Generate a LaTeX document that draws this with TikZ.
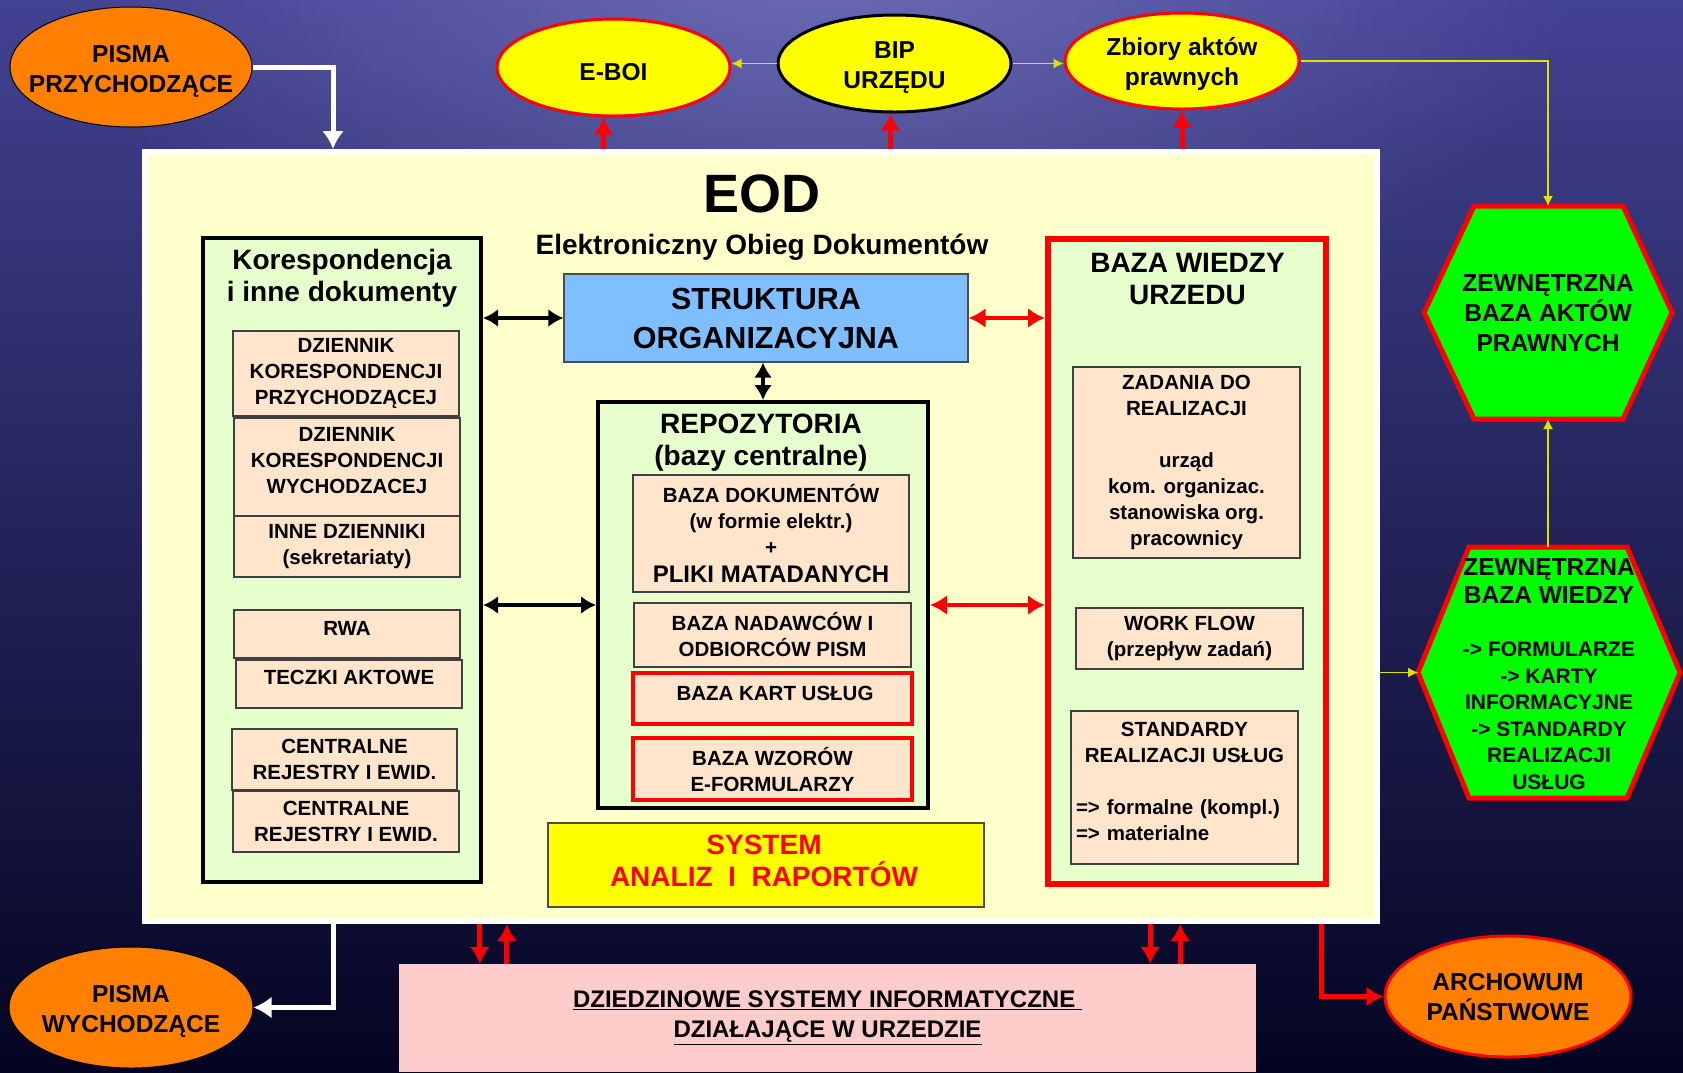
\documentclass[tikz,border=0pt]{standalone}
\usepackage{fontspec}
\setmainfont{Liberation Sans}
\usepackage{tikz}
\usetikzlibrary{shapes.geometric,arrows.meta,fadings}

\definecolor{bgtop}{RGB}{66,66,146}
\definecolor{bgmid}{RGB}{26,26,90}
\definecolor{bgbot}{RGB}{4,4,34}
\definecolor{glowc}{RGB}{130,130,200}
\definecolor{eodfill}{RGB}{255,255,204}
\definecolor{lgreen}{RGB}{230,255,204}
\definecolor{peach}{RGB}{255,229,204}
\definecolor{orng}{RGB}{255,128,0}
\definecolor{sky}{RGB}{128,191,255}
\definecolor{pinkbox}{RGB}{255,204,204}
\definecolor{hexgreen}{RGB}{0,255,0}
\definecolor{ylw}{RGB}{255,255,0}
\definecolor{ylline}{RGB}{225,225,0}

\newcommand{\fsz}[2]{\fontsize{#1}{#2}\selectfont}

\tikzfading[name=glow, inner color=transparent!35, outer color=transparent!100]

\tikzstyle{ovl} = [ellipse, fill=orng, draw=black, line width=1pt, inner xsep=-20pt, inner ysep=0pt, text height=55pt, align=center, font=\bfseries\fsz{24.5}{30}]
\tikzstyle{yov} = [ellipse, fill=ylw, draw=red, line width=3pt, inner sep=0pt, text height=55pt, align=center, font=\bfseries\fsz{24.5}{30}]
\tikzstyle{pch} = [rectangle, fill=peach, draw=black!75, line width=1.2pt, inner sep=0pt, align=center, font=\bfseries\fsz{20.5}{26}]
\tikzstyle{grp} = [rectangle, fill=lgreen, draw=black, line width=4pt, inner sep=0pt]
\tikzstyle{ttl} = [inner sep=0pt, align=center, font=\bfseries\fsz{28}{32}]
\tikzstyle{txt} = [inner sep=0pt, align=center, font=\bfseries\fsz{20.5}{26}]

\begin{document}
\begin{tikzpicture}[x=1pt, y=-1pt]
\tikzstyle{blk} = [line width=3.5pt, black, {Latex[length=15pt,width=18pt]}-{Latex[length=15pt,width=18pt]}]
\tikzstyle{rdd} = [line width=4pt, red, {Latex[length=17pt,width=20pt]}-{Latex[length=17pt,width=20pt]}]
\tikzstyle{rup} = [line width=5pt, red, -{Latex[length=17pt,width=20pt]}]
\tikzstyle{wht} = [line width=5pt, white, -{Latex[length=18pt,width=22pt]}]
\tikzstyle{yl} = [line width=1.3pt, ylline, -{Latex[length=10pt,width=10pt]}]
\tikzstyle{hx} = [fill=hexgreen, draw=red, line width=5pt, line join=miter]

\useasboundingbox (0,0) rectangle (1683,1072);
\shade[top color=bgtop, middle color=bgmid, bottom color=bgbot] (0,0) rectangle (1683,1072);
\fill[glowc, path fading=glow] (820,-40) ellipse (760 and 420);

% outer ellipses
\node[ovl, minimum width=242, minimum height=120] (pprz) at (131,67) {PISMA\\PRZYCHODZĄCE};
\node[yov, text height=25.5pt, minimum width=233, minimum height=97] (eboi) at (613.5,67.5) {E-BOI};
\node[yov, draw=black, minimum width=233, minimum height=97] (bip) at (894.5,63.5) {BIP\\URZĘDU};
\node[yov, minimum width=234, minimum height=96] (zbior) at (1182,61) {Zbiory aktów\\prawnych};
\node[ovl, text height=54pt, minimum width=244, minimum height=121] (pwych) at (131,1007.5) {PISMA\\WYCHODZĄCE};
\node[ovl, draw=red, line width=3pt, text height=49pt, minimum width=246, minimum height=121] (arch) at (1508,996.5) {ARCHOWUM\\PAŃSTWOWE};

% EOD frame
\node[rectangle, fill=eodfill, draw=white, line width=6pt, minimum width=1232, minimum height=769] (eod) at (761,536.5) {};
\node[inner sep=0pt, font=\bfseries\fsz{54}{60}] (eodt) at (762,194) {EOD};
\node[ttl] (eods) at (762,247) {Elektroniczny Obieg Dokumentów};

% Korespondencja
\node[grp, minimum width=278, minimum height=644] (kor) at (342,560) {};
\node[ttl] (kort) at (342,278) {Korespondencja\\i inne dokumenty};
\node[pch, minimum width=226, minimum height=85] (dzp) at (346,373.5) {DZIENNIK\\KORESPONDENCJI\\PRZYCHODZĄCEJ};
\node[pch, minimum width=226, minimum height=98] (dzw) at (347,467) {};
\node[txt] (dzwt) at (347,461) {DZIENNIK\\KORESPONDENCJI\\WYCHODZACEJ};
\node[pch, minimum width=226, minimum height=61] (inne) at (347,546.5) {INNE DZIENNIKI\\(sekretariaty)};
\node[pch, minimum width=226, minimum height=48] (rwa) at (347,634) {};
\node[txt] (rwat) at (347,628) {RWA};
\node[pch, minimum width=226, minimum height=48] (tecz) at (349,684) {};
\node[txt] (teczt) at (349,677) {TECZKI AKTOWE};
\node[pch, minimum width=225, minimum height=61] (cen1) at (344.5,759.5) {CENTRALNE\\REJESTRY I EWID.};
\node[pch, minimum width=226, minimum height=61] (cen2) at (346,821.5) {CENTRALNE\\REJESTRY I EWID.};

% struktura + repozytoria
\node[rectangle, fill=sky, draw=black!70, line width=1.2pt, minimum width=404, minimum height=88, align=center, inner sep=0pt, font=\bfseries\fsz{30.5}{39}] (str) at (766,318) {STRUKTURA\\ORGANIZACYJNA};
\node[grp, minimum width=330, minimum height=406] (repo) at (763,605) {};
\node[ttl] (repot) at (761,443) {REPOZYTORIA\\(bazy centralne)};
\node[pch, minimum width=276, minimum height=117] (bdok) at (771,533.5) {BAZA DOKUMENTÓW\\(w formie elektr.)\\+\\[2pt]{\fsz{24}{28}PLIKI MATADANYCH}};
\node[pch, minimum width=277, minimum height=64] (bnad) at (772.5,635) {BAZA NADAWCÓW I\\ODBIORCÓW PISM};
\node[pch, draw=red, line width=3.5pt, minimum width=279, minimum height=51] (bkart) at (772.5,698.5) {};
\node[txt] (bkartt) at (775,693) {BAZA KART USŁUG};
\node[pch, draw=red, line width=3.5pt, minimum width=279, minimum height=62] (bwz) at (772.5,769) {BAZA WZORÓW\\E-FORMULARZY};

\node[rectangle, fill=ylw, draw=black!70, line width=1.2pt, minimum width=436, minimum height=84] (sys) at (766,865) {};
\node[ttl, text=red] (syst) at (764,861) {SYSTEM\\ANALIZ~~I~~RAPORTÓW};

% baza wiedzy
\node[grp, draw=red, line width=6pt, minimum width=278, minimum height=645] (bw) at (1187,561.5) {};
\node[ttl] (bwt) at (1187.5,279) {BAZA WIEDZY\\URZEDU};
\node[pch, minimum width=227, minimum height=191] (zad) at (1186.5,462.5) {ZADANIA DO\\REALIZACJI\\[26pt]urząd\\kom. organizac.\\stanowiska org.\\pracownicy};
\node[pch, minimum width=227, minimum height=61] (wf) at (1189.5,638.5) {WORK FLOW\\(przepływ zadań)};
\node[pch, minimum width=227, minimum height=153] (std) at (1184.5,787.5) {};
\node[txt, text width=217, align=left] (stdt) at (1184.5,781) {\makebox[\hsize]{STANDARDY}\\\makebox[\hsize]{REALIZACJI USŁUG}\\[26pt]=> formalne (kompl.)\\=> materialne};

% dziedzinowe systemy
\node[rectangle, fill=pinkbox, minimum width=857, minimum height=108, inner sep=0pt, align=center, font=\bfseries\fsz{24}{30}] (dzs) at (827.5,1018) {\underline{DZIEDZINOWE SYSTEMY INFORMATYCZNE\ }\\\underline{DZIAŁAJĄCE W URZEDZIE}};

% hexagons
\path[hx] (1474,206) -- (1623,206) -- (1672,312.5) -- (1623,419) -- (1474,419) -- (1424,312.5) -- cycle;
\coordinate (hxa-top) at (1548,206);
\coordinate (hxa-bot) at (1548,419);
\node[inner sep=0pt, align=center, font=\bfseries\fsz{24.5}{30}] (hxa) at (1548,313) {ZEWNĘTRZNA\\BAZA AKTÓW\\PRAWNYCH};
\path[hx] (1469,547) -- (1627,547) -- (1680,672.5) -- (1627,798) -- (1469,798) -- (1418,672.5) -- cycle;
\coordinate (hxb-top) at (1548,547);
\coordinate (hxb-w) at (1418,672.5);
\node[inner sep=0pt, align=center, font=\bfseries\fsz{21}{26.5}] (hxb) at (1549,674) {{\fsz{24.5}{30}ZEWNĘTRZNA}\\[1pt]{\fsz{24.5}{30}BAZA WIEDZY}\\[27pt]-> FORMULARZE\\-> KARTY\\INFORMACYJNE\\-> STANDARDY\\REALIZACJI\\USŁUG};

% connectors
\draw[wht] (pprz.east) -| ([xshift=191]eod.north west);
\draw[wht] ([xshift=191]eod.south west) |- (pwych.east);
\draw[rup] ([xshift=-10]eboi.south |- eod.north) -- ([xshift=-10]eboi.south);
\draw[rup] ([xshift=-4]bip.south |- eod.north) -- ([xshift=-4]bip.south);
\draw[rup] (zbior.south |- eod.north) -- (zbior.south);
\draw[yl] (bip.west) -- (bip.west -| eboi.east);
\draw[yl] (bip.east) -- (bip.east -| zbior.west);
\draw[yl] (zbior.east) -| (hxa-top);
\draw[yl] (hxb-top) -- (hxa-bot);
\draw[yl] (eod.east |- hxb-w) -- (hxb-w);
\draw[blk] (str.west -| kor.east) -- (str.west);
\draw[blk] (repo.west -| kor.east) -- (repo.west);
\draw[blk] (repo.north |- str.south) -- (repo.north);
\draw[rdd] (str.east) -- (str.east -| bw.west);
\draw[rdd] (repo.east) -- (repo.east -| bw.west);
\draw[rup] ([xshift=81]dzs.north west |- eod.south) -- ([xshift=81]dzs.north west);
\draw[rup] ([xshift=108]dzs.north west) -- ([xshift=108]dzs.north west |- eod.south);
\draw[rup] ([xshift=-106]dzs.north east |- eod.south) -- ([xshift=-106]dzs.north east);
\draw[rup] ([xshift=-76]dzs.north east) -- ([xshift=-76]dzs.north east |- eod.south);
\draw[rup] ([xshift=-59]eod.south east) |- (arch.west);
\end{tikzpicture}
\end{document}
